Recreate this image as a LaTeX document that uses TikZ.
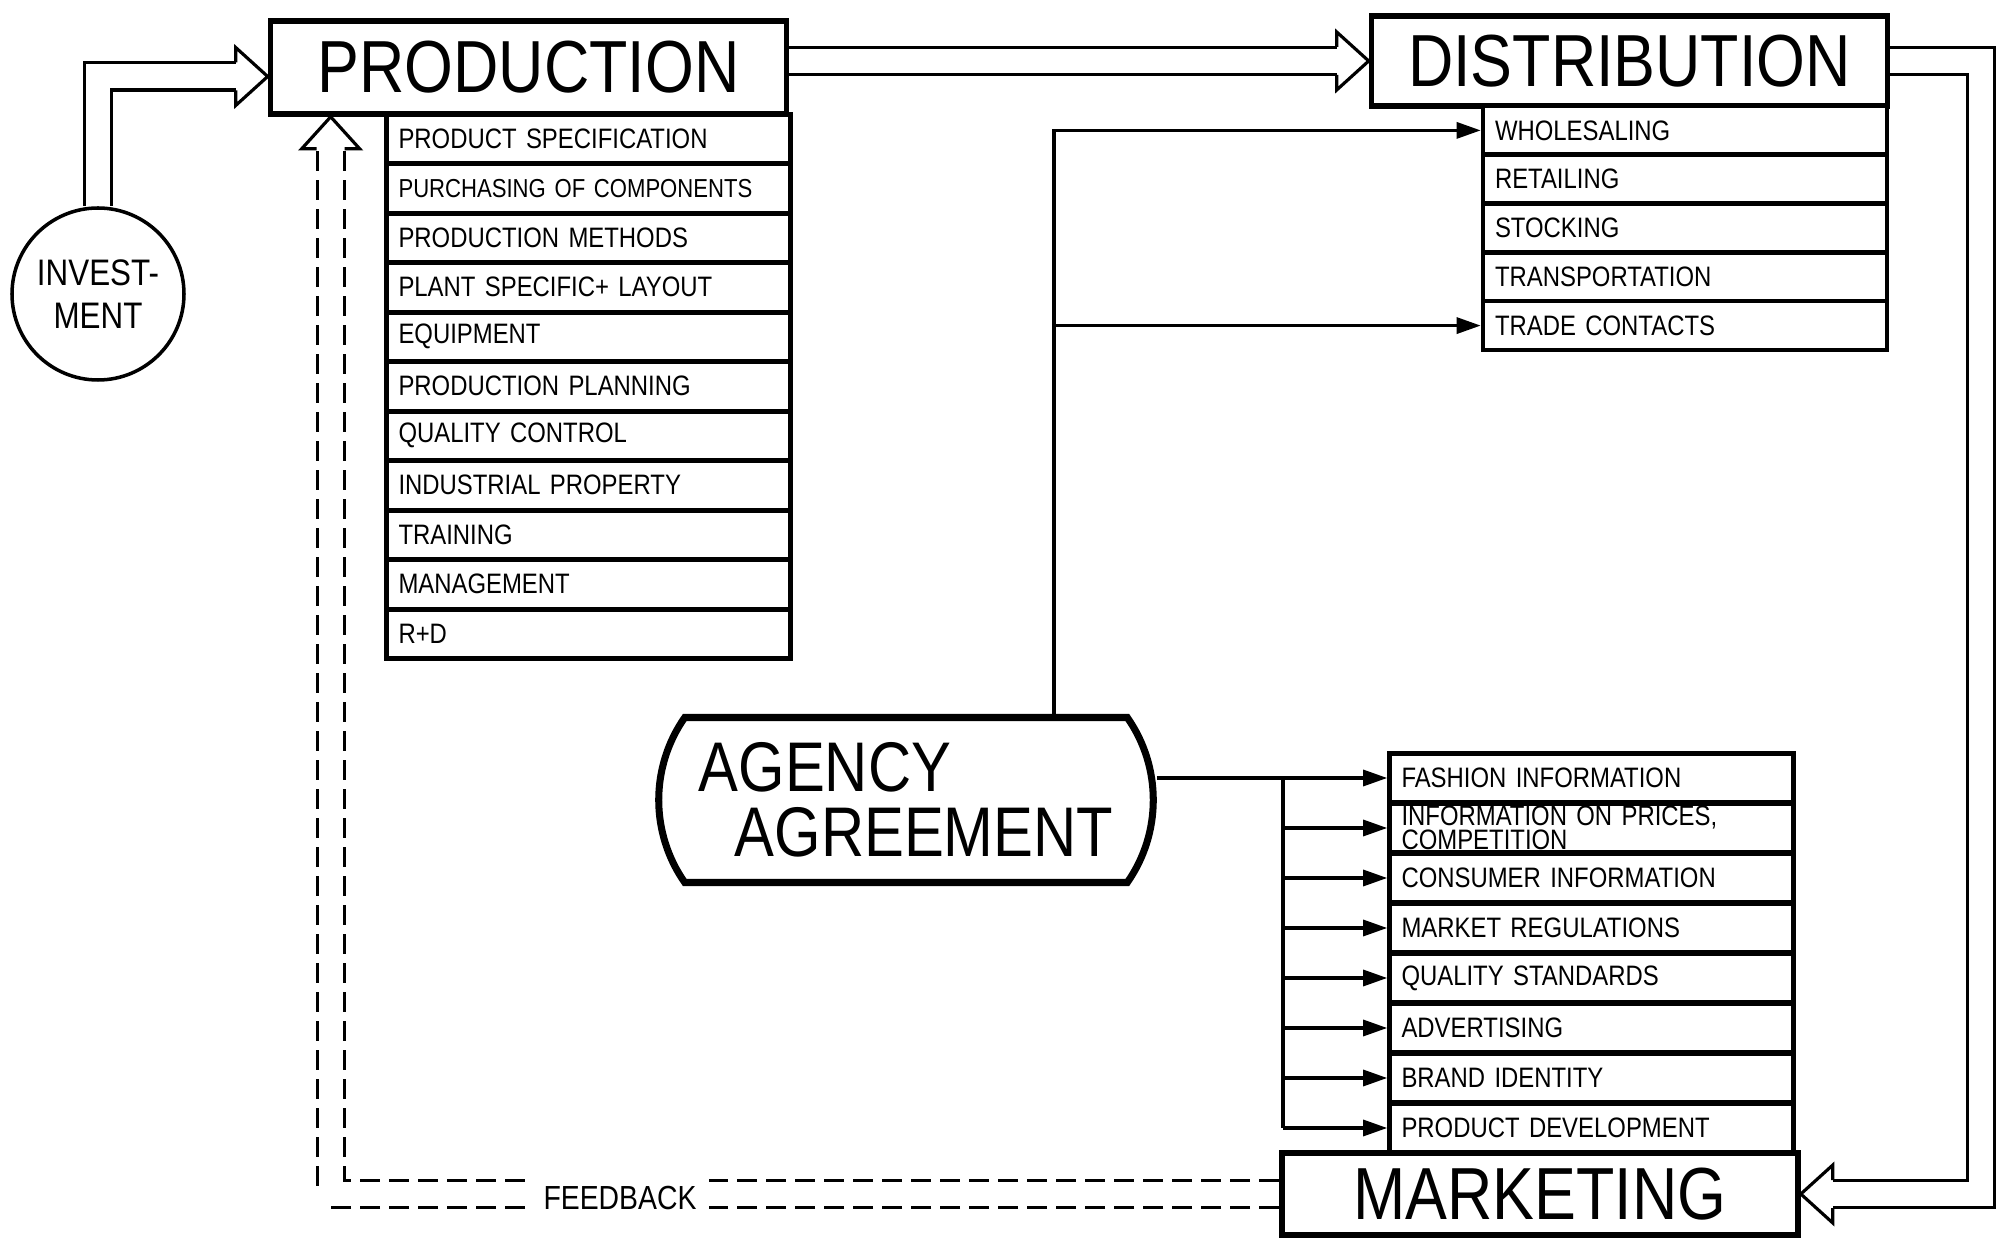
\documentclass[tikz,border=0pt]{standalone}
\usepackage{fontspec}
\setmainfont[FakeStretch=0.85]{Liberation Sans}
\usepackage{tikz}
\usetikzlibrary{shapes.misc,arrows.meta,backgrounds}

\newcommand{\boxfont}{\fontsize{21pt}{23pt}\selectfont}
\newcommand{\rowfont}{\fontsize{8pt}{9pt}\selectfont}

\tikzset{openhead/.pic={
  \draw[line width=0.9pt, line join=miter] (-3.2mm,1.4mm) -- (-3.2mm,2.9mm) -- (0,0) -- (-3.2mm,-2.9mm) -- (-3.2mm,-1.4mm);}}

\begin{document}
\begin{tikzpicture}[x=0.1mm, y=-0.1mm,
    hollow/.style={line width=0.9pt, double distance=2.4mm},
    arr/.style={line width=0.9pt, -{Triangle[length=2.4mm,width=1.6mm]}},
    titlebox/.style={draw, line width=1.6pt, fill=white, minimum width=51.6mm, minimum height=9mm, font=\boxfont},
    listbox/.style={draw, line width=1.3pt, fill=white, minimum height=4.9mm, text width=38mm, inner xsep=1.2mm, inner ysep=0pt, align=left, font=\rowfont}]

        \useasboundingbox (0,0) rectangle (2001,1238);

        \node[titlebox, minimum height=9.3mm] (prod) at (528.5,67.5) {PRODUCTION};
        \node[titlebox] (dist) at (1629.5,61) {DISTRIBUTION};
        \node[titlebox, minimum height=8.2mm] (mark) at (1540,1194) {MARKETING};

        \node[circle, draw, line width=1pt, fill=white, minimum size=17.2mm, inner sep=0pt, align=center,
              font=\fontsize{10.5pt}{12.2pt}\selectfont] (inv) at (98,294) {INVEST-\\MENT};

        \node[rounded rectangle, rounded rectangle arc length=70, draw, line width=2pt, fill=white,
              minimum width=51.8mm, minimum height=16.5mm, align=left,
              font=\fontsize{20pt}{18.5pt}\selectfont] (agency) at (906,800) {AGENCY\\\hspace*{3.6mm}AGREEMENT};

        \node[fill=white, inner xsep=1.3mm, minimum height=4.5mm, font=\fontsize{9.5pt}{10pt}\selectfont] (fb) at (620,1198) {FEEDBACK};

        \begin{scope}[every node/.style={listbox}]
          \node (p1)  at (588.5,138.8) {PRODUCT SPECIFICATION};
          \node[font=\fontsize{7.4pt}{9pt}\selectfont] (p2)  at (588.5,188.3) {PURCHASING OF COMPONENTS};
          \node (p3)  at (588.5,237.8) {PRODUCTION METHODS};
          \node (p4)  at (588.5,287.3) {PLANT SPECIFIC+ LAYOUT};
          \node (p5)  at (588.5,336.8) {EQUIPMENT};
          \node (p6)  at (588.5,386.3) {PRODUCTION PLANNING};
          \node (p7)  at (588.5,435.8) {QUALITY CONTROL};
          \node (p8)  at (588.5,485.3) {INDUSTRIAL PROPERTY};
          \node (p9)  at (588.5,534.8) {TRAINING};
          \node (p10) at (588.5,584.3) {MANAGEMENT};
          \node (p11) at (588.5,633.8) {R+D};

          \node (d1) at (1685,130.4) {WHOLESALING};
          \node (d2) at (1685,179.2) {RETAILING};
          \node (d3) at (1685,228) {STOCKING};
          \node (d4) at (1685,276.8) {TRANSPORTATION};
          \node (d5) at (1685,325.6) {TRADE CONTACTS};

          \node (m1) at (1591.5,778) {FASHION INFORMATION};
          \node (m2) at (1591.5,828) {INFORMATION ON PRICES,\\[-2.2pt]COMPETITION};
          \node (m3) at (1591.5,878) {CONSUMER INFORMATION};
          \node (m4) at (1591.5,928) {MARKET REGULATIONS};
          \node (m5) at (1591.5,978) {QUALITY STANDARDS};
          \node (m6) at (1591.5,1028) {ADVERTISING};
          \node (m7) at (1591.5,1078) {BRAND IDENTITY};
          \node (m8) at (1591.5,1128) {PRODUCT DEVELOPMENT};
        \end{scope}

        \begin{scope}[on background layer]
          \coordinate (invin) at ([yshift=-0.9mm]prod.west);
          \coordinate (fbin) at ([xshift=6.3mm]prod.south west);
          \coordinate (agtop) at ([xshift=14.8mm]agency.north);
          \coordinate (bus) at (1283,0);

          \draw[hollow] (inv.north) |- ([xshift=-3.2mm]invin);
          \path (invin) pic {openhead};
          \draw[hollow] (prod.east |- dist.west) -- ([xshift=-3.2mm]dist.west);
          \path (dist.west) pic {openhead};
          \draw[hollow] (dist.east) -- ++(91,0) |- ([xshift=3.2mm]mark.east);
          \path (mark.east) pic[rotate=180] {openhead};
          \draw[hollow, dash pattern=on 2mm off 0.9mm] (mark.west) -| ([yshift=-3.2mm]fbin);
          \path (fbin) pic[rotate=90] {openhead};

          \draw[arr] (agtop) |- (d1.west);
          \draw[arr] (agtop) |- (d5.west);
          \draw[arr] (agency.east |- m1.west) -- (m1.west);
          \draw[line width=0.9pt] (m1.west -| bus) -- (m8.west -| bus);

          \begin{scope}[every edge/.style={draw, arr}]
            \path (m2.west -| bus) edge (m2.west);
            \path (m3.west -| bus) edge (m3.west);
            \path (m4.west -| bus) edge (m4.west);
            \path (m5.west -| bus) edge (m5.west);
            \path (m6.west -| bus) edge (m6.west);
            \path (m7.west -| bus) edge (m7.west);
            \path (m8.west -| bus) edge (m8.west);
          \end{scope}
        \end{scope}

      \end{tikzpicture}
\end{document}
